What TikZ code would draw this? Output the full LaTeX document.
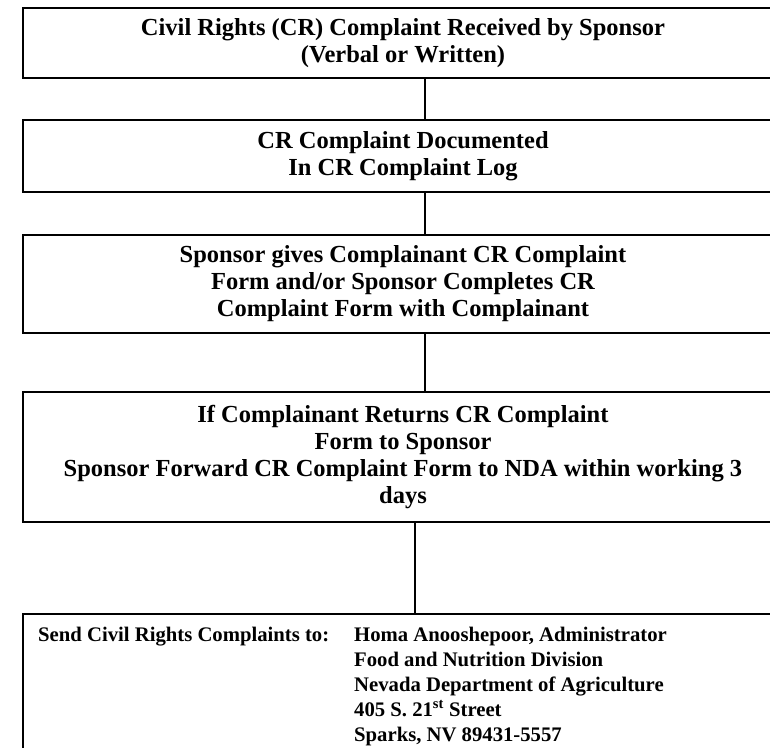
\documentclass[tikz,border=0pt]{standalone}
\usepackage{fontspec}
\setmainfont{Liberation Serif}
\begin{document}
\begin{tikzpicture}[x=1pt,y=-1pt,
  stepbox/.style={draw, line width=2.6pt, minimum width=760pt, inner sep=0pt,
    align=center, font=\bfseries\fontsize{24.5}{27}\selectfont},
  link/.style={line width=1.3pt},
  heavylink/.style={line width=2.8pt},
  addr/.style={anchor=base west, inner sep=0pt,
    font=\bfseries\fontsize{20.7}{25}\selectfont}]
  \useasboundingbox (0,0) rectangle (770,747);
  \clip (0,0) rectangle (770,747);

  % flow of the complaint
  \node[stepbox, minimum height=70pt] (b1) at (403,43)
    {Civil Rights (CR) Complaint Received by Sponsor\\(Verbal or Written)};
  \node[stepbox, minimum height=72pt] (b2) at (403,156)
    {CR Complaint Documented\\In CR Complaint Log};
  \node[stepbox, minimum height=98pt] (b3) at (403,284)
    {Sponsor gives Complainant CR Complaint\\Form and/or Sponsor Completes CR\\Complaint Form with Complainant};
  \node[stepbox, minimum height=130pt] (b4) at (403,457)
    {If Complainant Returns CR Complaint\\Form to Sponsor\\Sponsor Forward CR Complaint Form to NDA within working 3\\days};
  \node[stepbox, minimum height=176pt] (b5) at (403,702) {};

  \draw[link] ([xshift=22pt]b1.south) -- ([xshift=22pt]b2.north);
  \draw[link] ([xshift=22pt]b2.south) -- ([xshift=22pt]b3.north);
  \draw[link] ([xshift=22pt]b3.south) -- ([xshift=22pt]b4.north);
  \draw[heavylink] ([xshift=12pt]b4.south) -- ([xshift=12pt]b5.north);

  % mailing address
  \node[addr] (sendto) at (38,641) {Send Civil Rights Complaints to:};
  \node[addr] (addr1) at (354,641) {Homa Anooshepoor, Administrator};
  \node[addr] (addr2) at (354,666) {Food and Nutrition Division};
  \node[addr] (addr3) at (354,691) {Nevada Department of Agriculture};
  \node[addr] (addr4) at (354,716) {405 S. 21\textsuperscript{st} Street};
  \node[addr] (addr5) at (354,741) {Sparks, NV 89431-5557};
\end{tikzpicture}
\end{document}
